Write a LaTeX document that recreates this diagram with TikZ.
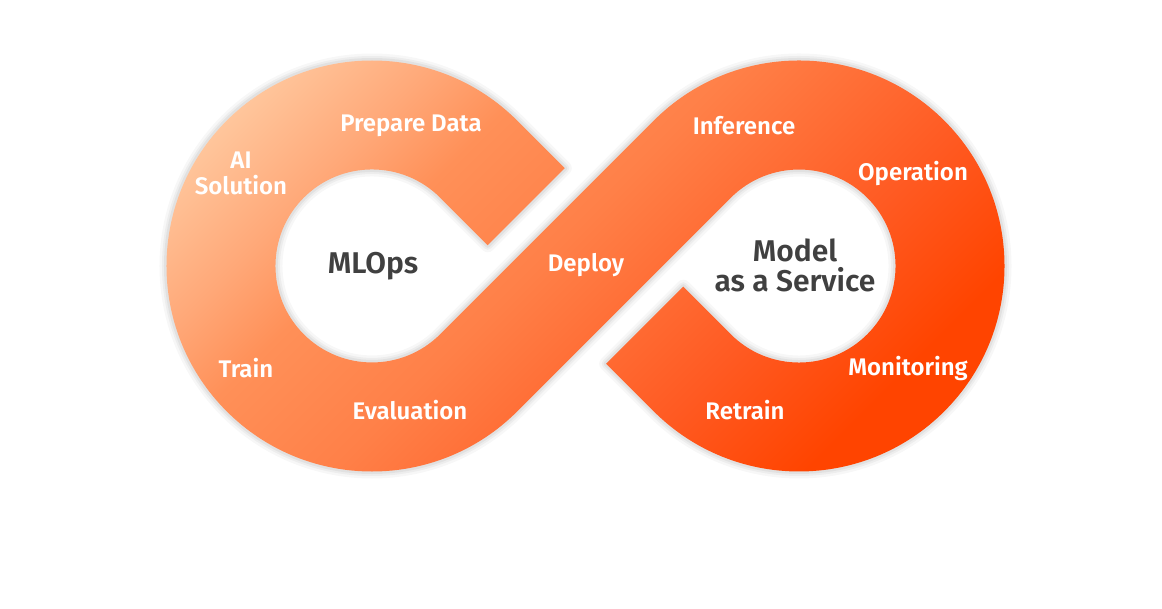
\documentclass[tikz,border=0pt]{standalone}
\usepackage{fontspec}
\setmainfont{Fira Sans}[BoldFont={Fira Sans SemiBold}]
\definecolor{peach}{HTML}{FFC69C}
\definecolor{salmon}{HTML}{FFA878}
\definecolor{apricot}{HTML}{FF9058}
\definecolor{tangerine}{HTML}{FF8048}
\definecolor{flame}{HTML}{FF5A22}
\definecolor{vermilion}{HTML}{FF4400}
\definecolor{hubtext}{HTML}{404040}
\pgfdeclareverticalshading{infinityglow}{100bp}{color(0bp)=(vermilion); color(30.2bp)=(vermilion);
  color(39bp)=(flame); color(52.2bp)=(tangerine); color(61bp)=(apricot); color(66.3bp)=(salmon);
  color(73.5bp)=(peach); color(100bp)=(peach)}

\newcommand{\infinityoutline}{%
  (564.8,440.8) -- (517.3,488.3)
  arc[start angle=45, end angle=315, radius=205.5pt]
  -- (730.8,411.2)
  arc[start angle=135, end angle=-135, radius=96.5pt]
  -- (683.3,322.3) -- (606.2,245.2) -- (653.7,197.7)
  arc[start angle=225, end angle=495, radius=205.5pt]
  -- (440.2,274.8)
  arc[start angle=-45, end angle=-315, radius=96.5pt]
  -- (487.7,363.7) -- cycle}

\begin{document}
\begin{tikzpicture}[x=1pt, y=1pt]

\tikzset{steplabel/.style = {text=white, align=center, font=\bfseries\fontsize{24}{26}\selectfont}}
\tikzset{hub/.style = {text=hubtext, align=center, font=\bfseries\fontsize{30}{30}\selectfont}}
\useasboundingbox (0,0) rectangle (1162,609);
%shadow
\foreach \w/\o in {14/0.03, 9/0.04, 5/0.05}
  \draw[black, opacity=\o, line width=\w pt, line join=round] \infinityoutline;
%band
\begin{scope}
  \clip \infinityoutline;
  \shade[shading=infinityglow, transform canvas={rotate around={45:(585.5,343)}}]
    (205.5,-37) rectangle (965.5,723);
\end{scope}
%hubs
\node[hub] (mlops) at (373,343) {MLOps};
\node[hub] (maas) at (795,344) {Model\\as a Service};
%steps
\node[steplabel] (prep) at (411,483) {Prepare Data};
\node[steplabel] (ai) at (241,436) {AI\\Solution};
\node[steplabel] (train) at (246,241) {Train};
\node[steplabel] (eval) at (410,199) {Evaluation};
\node[steplabel] (deploy) at (586,344) {Deploy};
\node[steplabel] (infer) at (744,483) {Inference};
\node[steplabel] (oper) at (913,435) {Operation};
\node[steplabel] (monit) at (908,240) {Monitoring};
\node[steplabel] (retrain) at (745,199) {Retrain};

\end{tikzpicture}
\end{document}
